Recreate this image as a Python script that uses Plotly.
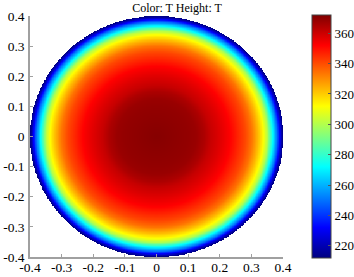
import numpy as np
import plotly.graph_objects as go

# Radial temperature profile (radius, T)
radius = [0.00, 0.05, 0.10, 0.125, 0.15, 0.17, 0.20, 0.233, 0.25, 0.28, 0.30, 0.32, 0.337, 0.35, 0.365, 0.38, 0.39, 0.395, 0.40]
temperature = [371, 370, 369, 368, 365, 361, 357, 352, 348, 341, 334, 323, 312, 300, 274, 250, 228, 218, 212]

tick_vals = [-0.4, -0.3, -0.2, -0.1, 0, 0.1, 0.2, 0.3, 0.4]
tick_text = ["-0.4", "-0.3", "-0.2", "-0.1", "0", "0.1", "0.2", "0.3", "0.4"]
cbar_vals = [220, 240, 260, 280, 300, 320, 340, 360]
t_min, t_max = 212, 372
title_text = "Color: T Height: T"

# grid for the heatmap table
g = np.linspace(-0.4, 0.4, 401)
X, Y = np.meshgrid(g, g)
R = np.sqrt(X**2 + Y**2)
Z = np.interp(R, radius, temperature)
Z = np.where(R <= 0.4, Z, np.nan)

jet = [
    [0.0, "rgb(0,0,128)"],
    [0.125, "rgb(0,0,255)"],
    [0.375, "rgb(0,255,255)"],
    [0.625, "rgb(255,255,0)"],
    [0.875, "rgb(255,0,0)"],
    [1.0, "rgb(128,0,0)"],
]

serif = "Liberation Serif, Times New Roman, serif"

fig = go.Figure(go.Heatmap(
    x=g, y=g, z=Z, colorscale=jet, zmin=t_min, zmax=t_max,
    hoverongaps=False,
    colorbar=dict(
        x=1.115, xanchor="left", xref="paper",
        y=0.5, yanchor="middle", len=1.01, lenmode="fraction",
        thickness=19, thicknessmode="pixels",
        outlinewidth=1, outlinecolor="#444",
        tickvals=cbar_vals, ticks="inside", ticklen=3, tickcolor="#555",
        tickfont=dict(family=serif, size=13, color="black"),
        xpad=0, ypad=0,
    ),
))

axis_common = dict(
    range=[-0.4, 0.4], tickvals=tick_vals, ticktext=tick_text,
    showgrid=False, zeroline=False, showline=True, automargin=False,
    linecolor="#a0a0a0", linewidth=1.5, mirror=False,
    ticks="inside", ticklen=3, tickcolor="#a0a0a0",
    tickfont=dict(family=serif, size=13.5, color="black"),
)

fig.update_layout(
    width=354, height=277,
    margin=dict(l=30, r=71, t=16, b=20, autoexpand=False),
    paper_bgcolor="white", plot_bgcolor="white",
    xaxis=dict(**axis_common, ticklabelstandoff=-3),
    yaxis=dict(**axis_common, ticklabelstandoff=1),
    title=dict(text=title_text, x=0.5, xanchor="center",
               y=1 - 8 / 277, yanchor="middle", yref="container",
               font=dict(family=serif, size=12, color="black")),
)

fig.write_html("out.html", config={"displayModeBar": False},
               post_script="document.body.style.margin='0';")
